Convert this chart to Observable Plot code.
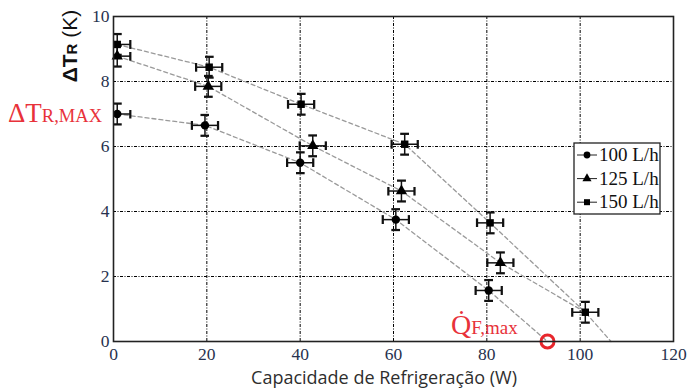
<!DOCTYPE html>
<html><head><meta charset="utf-8">
<script src="https://cdn.jsdelivr.net/npm/d3@7"></script>
<script src="https://cdn.jsdelivr.net/npm/@observablehq/plot@0.6"></script>
<style>
body{margin:0;background:#fff;}
#wrap{position:relative;width:690px;height:390px;overflow:hidden;}
#over{position:absolute;left:0;top:0;pointer-events:none;}
</style>
</head><body><div id="wrap"></div>
<script>
// ---- data ----
const series = ["100 L/h", "125 L/h", "150 L/h"];
const x100 = [0.8, 19.6, 40.0, 60.5, 80.4];
const y100 = [7.00, 6.65, 5.50, 3.75, 1.57];
const x125 = [0.8, 20.3, 42.7, 61.7, 82.9];
const y125 = [8.78, 7.85, 6.02, 4.63, 2.42];
const x150 = [0.8, 20.5, 40.2, 62.4, 80.7, 101.1];
const y150 = [9.14, 8.44, 7.30, 6.07, 3.65, 0.90];
const xErr = 2.8, yErr = 0.32;
// dashed guide lines (points plus their extension)
const g100X = [...x100, 93.0],  g100Y = [...y100, 0];
const g125X = [...x125, 101.1], g125Y = [...y125, 0.90];
const g150X = [...x150, 106.6], g150Y = [...y150, 0];
// Q_F,max marker
const qmaxX = [93.0], qmaxY = [0];
const xTicks = [0, 20, 40, 60, 80, 100, 120];
const yTicks = [0, 2, 4, 6, 8, 10];
const xGrid = [20, 40, 60, 80, 100];
const yGrid = [2, 4, 6, 8];
const symbols = ["circle", "triangle", "square"];

const pts = [];
[[x100, y100], [x125, y125], [x150, y150]].forEach(([xs, ys], i) =>
  xs.forEach((x, j) => pts.push({s: series[i], x, y: ys[j]})));
const guides = [];
[[g100X, g100Y], [g125X, g125Y], [g150X, g150Y]].forEach(([xs, ys], i) =>
  xs.forEach((x, j) => guides.push({s: series[i], x, y: ys[j]})));
const qmax = qmaxX.map((x, i) => ({x, y: qmaxY[i]}));

const tickColor = "#27324e";
const chart = Plot.plot({
  width: 690, height: 390,
  marginLeft: 113, marginRight: 17, marginTop: 16, marginBottom: 49,
  style: {fontFamily: "Liberation Serif", fontSize: "17.5px", color: tickColor, background: "#fff"},
  x: {domain: [0, 120]},
  y: {domain: [0, 10]},
  symbol: {domain: series, range: symbols},
  marks: [
    Plot.ruleX(xGrid, {y1: 0, y2: 10, stroke: "#000", strokeWidth: 1, strokeDasharray: "3,1.5,1,1.5"}),
    Plot.ruleY(yGrid, {x1: 0, x2: 120, stroke: "#000", strokeWidth: 1, strokeDasharray: "3,1.5,1,1.5"}),
    Plot.line(guides, {x: "x", y: "y", z: "s", stroke: "#9a9a9a", strokeWidth: 1.3, strokeDasharray: "4,3"}),
    Plot.link(pts, {x1: d => d.x - xErr, x2: d => d.x + xErr, y1: "y", y2: "y", stroke: "#111", strokeWidth: 1.5, marker: "tick", clip: true}),
    Plot.link(pts, {x1: "x", x2: "x", y1: d => d.y - yErr, y2: d => d.y + yErr, stroke: "#111", strokeWidth: 1.5, marker: "tick", clip: true}),
    Plot.dot(pts, {x: "x", y: "y", symbol: "s", fill: "#000", r: 4.2}),
    Plot.dot(qmax, {x: "x", y: "y", r: 6.5, stroke: "#e8262c", strokeWidth: 3, fill: "none"}),
    Plot.axisX({ticks: xTicks, tickSize: 0, tickPadding: 6, label: null}),
    Plot.axisY({ticks: yTicks, tickSize: 0, tickPadding: 4, label: null}),
    Plot.frame({stroke: "#222", strokeWidth: 1.6})
  ]
});
const wrap = document.getElementById("wrap");
wrap.appendChild(chart);

// overlay: axis titles, annotations, legend
const ov = d3.select(wrap).append("svg").attr("id", "over").attr("width", 690).attr("height", 390);
// y title
const yt = ov.append("text").attr("transform", "translate(77,46) rotate(-90)")
  .attr("text-anchor", "middle").attr("font-family", "Liberation Sans").attr("font-size", 21).attr("fill", "#111");
yt.append("tspan").attr("font-weight", "bold").text("ΔT");
yt.append("tspan").attr("font-weight", "bold").attr("font-size", 15).text("R");
yt.append("tspan").text(" (K)");
// x title
ov.append("text").attr("x", 384).attr("y", 384).attr("text-anchor", "middle")
  .attr("font-family", "Open Sans").attr("font-size", 18).attr("fill", "#2e2e2e")
  .text("Capacidade de Refrigeração (W)");
// red annotations
const red = "#e8323a";
const a1 = ov.append("text").attr("x", 8).attr("y", 122).attr("font-family", "Liberation Serif").attr("fill", red);
a1.append("tspan").attr("font-size", 27).text("ΔT");
a1.append("tspan").attr("font-size", 18.5).text("R,MAX");
const a2 = ov.append("text").attr("x", 451).attr("y", 334).attr("font-family", "Liberation Serif").attr("fill", red);
a2.append("tspan").attr("font-size", 28).text("Q\u0307");
a2.append("tspan").attr("font-size", 19).text("F,max");
// legend
const lg = ov.append("g");
lg.append("rect").attr("x", 574).attr("y", 143).attr("width", 86).attr("height", 71)
  .attr("fill", "#fff").attr("stroke", "#222").attr("stroke-width", 1.3);
const symMap = {circle: d3.symbolCircle, triangle: d3.symbolTriangle, square: d3.symbolSquare};
series.forEach((s, i) => {
  const cy = 155 + i * 23.6;
  lg.append("line").attr("x1", 577).attr("x2", 597).attr("y1", cy).attr("y2", cy).attr("stroke", "#222").attr("stroke-width", 1);
  lg.append("path").attr("transform", `translate(587,${cy})`).attr("d", d3.symbol(symMap[symbols[i]], 36)()).attr("fill", "#000");
  lg.append("text").attr("x", 599).attr("y", cy + 6).attr("font-family", "Liberation Serif").attr("font-size", 19).attr("fill", "#111").text(s);
});
</script>
</body></html>
